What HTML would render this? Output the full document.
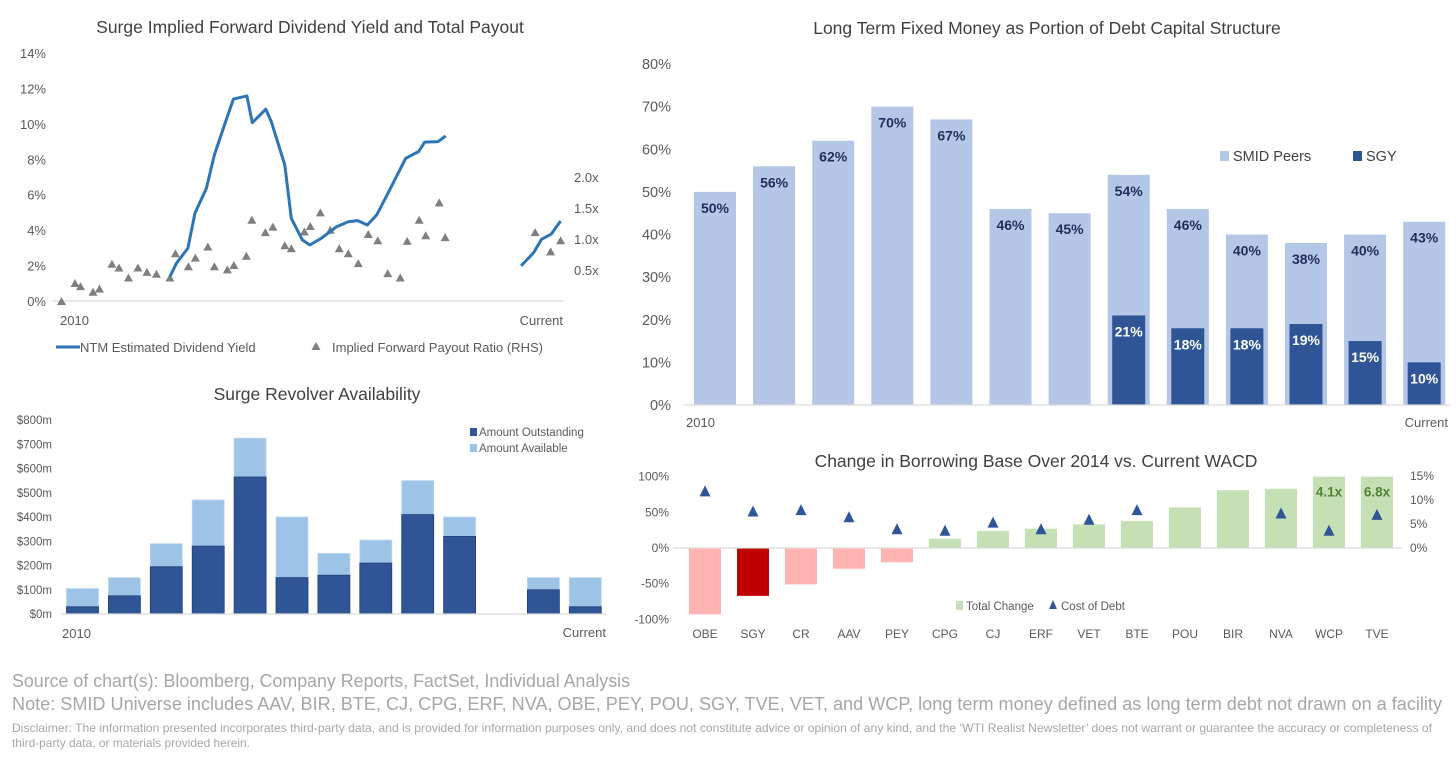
<!DOCTYPE html>
<html><head><meta charset="utf-8"><style>
html,body{margin:0;padding:0;background:#fff;}
svg{display:block;font-family:"Liberation Sans",Arial,sans-serif;}
.t{fill:#404040;font-size:17.5px;}
.ax{fill:#595959;font-size:13px;}
.ax2{fill:#595959;font-size:12px;}
</style></head><body>
<svg id="root" width="1456" height="760" viewBox="0 0 1456 760">
<!-- Top-left chart -->
<g id="c1">
<text class="t" x="310" y="33" text-anchor="middle">Surge Implied Forward Dividend Yield and Total Payout</text>
<line x1="52" y1="301" x2="563" y2="301" stroke="#d9d9d9" stroke-width="1.2"/>
<g id="c1yl"></g>
<g id="c1yr"></g>
<text class="ax" x="60" y="325">2010</text>
<text class="ax" x="563" y="325" text-anchor="end">Current</text>
<g id="c1marks"></g>
<line x1="56" y1="347" x2="80" y2="347" stroke="#2e75b6" stroke-width="3"/>
<text class="ax" x="80" y="352">NTM Estimated Dividend Yield</text>
<polygon points="316,342 320.5,350 311.5,350" fill="#7f7f7f"/>
<text class="ax" x="332" y="352">Implied Forward Payout Ratio (RHS)</text>
</g>
<!-- Bottom-left chart -->
<g id="c2">
<text class="t" x="317" y="400" text-anchor="middle">Surge Revolver Availability</text>
<g id="c2y"></g>
<g id="c2marks"></g>
<line x1="61" y1="614" x2="607" y2="614" stroke="#d9d9d9" stroke-width="1.2"/>
<text class="ax" x="62" y="638">2010</text>
<text class="ax" x="606" y="637" text-anchor="end">Current</text>
<rect x="470" y="428" width="7" height="8" fill="#2f5597"/>
<text class="ax2" x="479" y="436" style="font-size:11.5px">Amount Outstanding</text>
<rect x="470" y="444" width="7" height="8" fill="#9dc3e6"/>
<text class="ax2" x="479" y="452" style="font-size:11.5px">Amount Available</text>
</g>
<!-- Top-right chart -->
<g id="c3">
<text class="t" x="1047" y="34" text-anchor="middle">Long Term Fixed Money as Portion of Debt Capital Structure</text>
<g id="c3y"></g>
<g id="c3marks"></g>
<line x1="683" y1="405" x2="1450" y2="405" stroke="#d9d9d9" stroke-width="1.2"/>
<text class="ax" x="686" y="427">2010</text>
<text class="ax" x="1448" y="427" text-anchor="end">Current</text>
<rect x="1220" y="151" width="9" height="10" fill="#b4c7e7"/>
<text x="1233" y="161" style="font-size:14.5px;fill:#404040">SMID Peers</text>
<rect x="1353" y="151" width="9" height="10" fill="#2f5597"/>
<text x="1366" y="161" style="font-size:14.5px;fill:#404040">SGY</text>
</g>
<!-- Bottom-right chart -->
<g id="c4">
<text class="t" x="1036" y="467" text-anchor="middle">Change in Borrowing Base Over 2014 vs. Current WACD</text>
<g id="c4yl"></g>
<g id="c4yr"></g>
<g id="c4marks"></g>
<line x1="673" y1="548" x2="1402" y2="548" stroke="#d9d9d9" stroke-width="1.2"/>
<rect x="956" y="601" width="7" height="9" fill="#c5e0b4"/>
<text class="ax2" x="966" y="610" style="font-size:11.5px">Total Change</text>
<polygon points="1053,600 1057,609 1049,609" fill="#2f5597"/>
<text class="ax2" x="1061" y="610" style="font-size:11.5px">Cost of Debt</text>
</g>
<!-- Footer -->
<g>
<text x="12" y="687" textLength="618" lengthAdjust="spacingAndGlyphs" style="font-size:18px;fill:#a6a6a6">Source of chart(s): Bloomberg, Company Reports, FactSet, Individual Analysis</text>
<text x="12" y="710" textLength="1430" lengthAdjust="spacingAndGlyphs" style="font-size:18px;fill:#a6a6a6">Note: SMID Universe includes AAV, BIR, BTE, CJ, CPG, ERF, NVA, OBE, PEY, POU, SGY, TVE, VET, and WCP, long term money defined as long term debt not drawn on a facility</text>
<text x="12" y="732" textLength="1420" lengthAdjust="spacingAndGlyphs" style="font-size:12px;fill:#a6a6a6">Disclaimer: The information presented incorporates third-party data, and is provided for information purposes only, and does not constitute advice or opinion of any kind, and the ‘WTI Realist Newsletter’ does not warrant or guarantee the accuracy or completeness of</text>
<text x="12" y="747" textLength="238" lengthAdjust="spacingAndGlyphs" style="font-size:12px;fill:#a6a6a6">third-party data, or materials provided herein.</text>
</g>
</svg>
<script>
// ---- Chart 1 data ----
const yieldPeriods1 = [21.8,23.1,25.4,26.8,29.1,30.7,32.6,34.5,37.2,38.3,41.0,42.1,44.8,46.1,48.3,49.8,52.1,55.2,57.5,59.4,61.3,63.2,65.1,69.0,71.6,72.8,75.5,77.0];
const yieldValues1 = [1.37,2.13,2.98,4.95,6.37,8.25,9.85,11.4,11.58,10.07,10.83,10.13,7.68,4.67,3.45,3.16,3.54,4.2,4.48,4.54,4.29,4.86,5.89,8.06,8.44,8.97,9.0,9.32];
const yieldPeriods2 = [92.1,94.6,96.2,98.1,100];
const yieldValues2 = [1.98,2.73,3.49,3.77,4.52];
const payoutPeriods = [0.1,2.8,3.9,6.4,7.7,10.2,11.6,13.5,15.4,17.2,19.1,21.8,22.9,25.5,26.9,29.4,30.7,33.3,34.6,37.1,38.2,40.9,42.4,44.8,46.1,48.7,49.9,51.9,53.9,55.7,57.5,59.5,61.5,63.4,65.4,67.9,69.3,71.7,73.0,75.7,76.9,94.9,98.0,100];
const payoutRatios = [0.0,0.29,0.24,0.15,0.20,0.60,0.54,0.38,0.54,0.47,0.44,0.38,0.77,0.56,0.70,0.88,0.56,0.51,0.58,0.73,1.31,1.11,1.20,0.90,0.85,1.12,1.21,1.43,1.15,0.85,0.77,0.61,1.08,0.98,0.45,0.38,0.97,1.31,1.06,1.59,1.03,1.11,0.80,0.98];
const yieldTicks = [0,2,4,6,8,10,12,14];
const payoutTicks = [0.5,1.0,1.5,2.0];
// ---- Chart 2 data ----
const revolverOutstanding = [30,75,195,280,565,150,160,210,410,320,null,100,30];
const revolverTotal = [105,150,290,470,725,400,250,305,550,400,null,150,150];
const revolverTicks = [0,100,200,300,400,500,600,700,800];
// ---- Chart 3 data ----
const peersValues = [50,56,62,70,67,46,45,54,46,40,38,40,43];
const sgyValues = [null,null,null,null,null,null,null,21,18,18,19,15,10];
const fixedTicks = [0,10,20,30,40,50,60,70,80];
// ---- Chart 4 data ----
const companies = ['OBE','SGY','CR','AAV','PEY','CPG','CJ','ERF','VET','BTE','POU','BIR','NVA','WCP','TVE'];
const totalChange = [-93,-67,-51,-29,-20,13,24,27,33,38,57,81,83,410,680];
const costOfDebt = [11.9,7.7,8.0,6.5,4.0,3.7,5.4,4.0,6.0,8.0,null,null,7.3,3.7,7.0];
const changeTicks = [-100,-50,0,50,100];
const costTicks = [0,5,10,15];

const NS='http://www.w3.org/2000/svg';
function mk(parent,tag,attrs,text){const e=document.createElementNS(NS,tag);for(const k in attrs)e.setAttribute(k,attrs[k]);if(text!==undefined)e.textContent=text;parent.appendChild(e);return e;}
function tri(parent,cx,cy,w,h,fill){return mk(parent,'polygon',{points:`${cx},${cy-h/2} ${cx+w/2},${cy+h/2} ${cx-w/2},${cy+h/2}`,fill:fill});}

// Chart 1
const x1=p=>61+p*4.996, y1=v=>301-v*17.71, y1r=r=>301-r*62;
const c1yl=document.getElementById('c1yl'), c1yr=document.getElementById('c1yr'), c1m=document.getElementById('c1marks');
yieldTicks.forEach(t=>{const e=mk(c1yl,'text',{x:46,y:y1(t)+5,'text-anchor':'end',class:'ax'},t+'%');

});
payoutTicks.forEach(t=>{const e=mk(c1yr,'text',{x:574,y:y1r(t)+5,class:'ax'},t.toFixed(1)+'x');

});
payoutPeriods.forEach((p,i)=>{const e=tri(c1m,x1(p),y1r(payoutRatios[i]),9,8,'#7f7f7f');

});
[[yieldPeriods1,yieldValues1],[yieldPeriods2,yieldValues2]].forEach(([ps,vs])=>{
const d=ps.map((p,i)=>(i?'L':'M')+x1(p).toFixed(1)+','+y1(vs[i]).toFixed(1)).join(' ');
const e=mk(c1m,'path',{d:d,fill:'none',stroke:'#2e75b6','stroke-width':3,'stroke-linejoin':'round'});

});

// Chart 2
const x2=i=>82.5+i*41.9, y2=v=>614-v*0.2425;
const c2y=document.getElementById('c2y'), c2m=document.getElementById('c2marks');
revolverTicks.forEach(t=>{const e=mk(c2y,'text',{x:52,y:y2(t)+4,'text-anchor':'end',class:'ax2',style:'font-size:11.5px'},'$'+t+'m');

});
revolverTotal.forEach((tot,i)=>{if(tot==null)return;const o=revolverOutstanding[i];
const a=mk(c2m,'rect',{x:x2(i)-16,y:y2(tot),width:32,height:y2(o)-y2(tot),fill:'#9dc3e6',stroke:'#bdd7ee','stroke-width':0.8});


const b=mk(c2m,'rect',{x:x2(i)-16,y:y2(o),width:32,height:614-y2(o),fill:'#2f5597',stroke:'#1f3f7a','stroke-width':0.8});

});

// Chart 3
const x3=i=>715+i*59.1, y3=v=>405-v*4.2625;
const c3y=document.getElementById('c3y'), c3m=document.getElementById('c3marks');
fixedTicks.forEach(t=>{const e=mk(c3y,'text',{x:671,y:y3(t)+5,'text-anchor':'end',class:'ax',style:'font-size:14.5px'},t+'%');

});
peersValues.forEach((v,i)=>{
const r=mk(c3m,'rect',{x:x3(i)-21,y:y3(v),width:42,height:405-y3(v),fill:'#b4c7e7'});


const l=mk(c3m,'text',{x:x3(i),y:y3(v)+21,'text-anchor':'middle',style:'font-size:14px;font-weight:bold;fill:#1f2f5a'},v+'%');


const s=sgyValues[i];if(s==null)return;
const b=mk(c3m,'rect',{x:x3(i)-16.5,y:y3(s),width:33,height:405-y3(s),fill:'#2f5597'});


const sl=mk(c3m,'text',{x:x3(i),y:y3(s)+21,'text-anchor':'middle',style:'font-size:14px;font-weight:bold;fill:#fff'},s+'%');

});

// Chart 4
const x4=i=>705+i*48.0, y4=v=>548-Math.max(-100,Math.min(100,v))*0.714, y4r=v=>548-v*4.8;
const c4yl=document.getElementById('c4yl'), c4yr=document.getElementById('c4yr'), c4m=document.getElementById('c4marks');
changeTicks.forEach(t=>{const e=mk(c4yl,'text',{x:669,y:y4(t)+4,'text-anchor':'end',class:'ax2'},t+'%');

});
costTicks.forEach(t=>{const e=mk(c4yr,'text',{x:1410,y:y4r(t)+4,class:'ax2'},t+'%');

});
companies.forEach((c,i)=>{const v=totalChange[i];
const fill=c==='SGY'?'#c00000':(v<0?'#ffb3b3':'#c5e0b4');
const top=Math.min(y4(v),548), h=Math.abs(y4(v)-548);
const r=mk(c4m,'rect',{x:x4(i)-16,y:top,width:32,height:h,fill:fill});


if(v>100){const l=mk(c4m,'text',{x:x4(i),y:y4(v)+20,'text-anchor':'middle',style:'font-size:13.5px;font-weight:bold;fill:#548235'},(v/100).toFixed(1)+'x');

}
const cl=mk(c4m,'text',{x:x4(i),y:638,'text-anchor':'middle',class:'ax2'},c);


const cd=costOfDebt[i];if(cd==null)return;
const t=tri(c4m,x4(i),y4r(cd),11,11,'#2f5597');

});
</script>
</body></html>
